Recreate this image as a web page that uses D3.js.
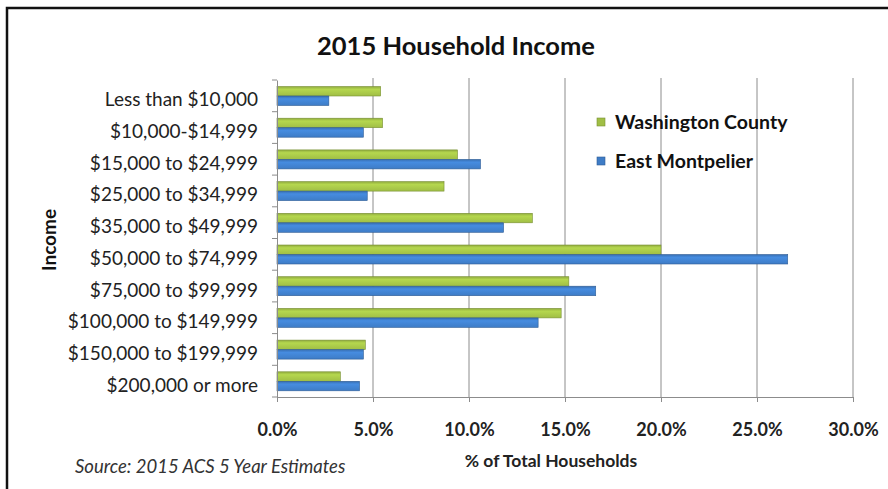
<!DOCTYPE html>
<html>
<head>
<meta charset="utf-8">
<script src="https://cdn.jsdelivr.net/npm/d3@7"></script>
<style>
  body { margin: 0; background: #fff; }
  svg { display: block; font-family: Lato, "Open Sans", sans-serif; }
</style>
</head>
<body>
<svg id="chart" width="888" height="489"></svg>
<script>
// data (percent of households)
var categories = ['Less than $10,000', '$10,000-$14,999', '$15,000 to $24,999', '$25,000 to $34,999',
  '$35,000 to $49,999', '$50,000 to $74,999', '$75,000 to $99,999', '$100,000 to $149,999',
  '$150,000 to $199,999', '$200,000 or more'];
var series = ['Washington County', 'East Montpelier'];
var washington = [5.4, 5.5, 9.4, 8.7, 13.3, 20.0, 15.2, 14.8, 4.6, 3.3];
var eastMontpelier = [2.7, 4.5, 10.6, 4.7, 11.8, 26.6, 16.6, 13.6, 4.5, 4.3];
var xTicks = [0, 5, 10, 15, 20, 25, 30];
var colors = ['#a0be45', '#3e7cc6'];

var svg = d3.select('#chart');

// frame
svg.append('path')
  .attr('d', 'M7,489 V8 H888')
  .attr('fill', 'none')
  .attr('stroke', '#111')
  .attr('stroke-width', 2.5);

var x = d3.scaleLinear().domain([0, 30]).range([277, 853]);
var y = d3.scaleBand().domain(categories).range([80, 397]);
var ys = d3.scaleBand().domain(series).range([6.5, 25.5]);

// gradients for the bars
var defs = svg.append('defs');
colors.forEach(function(c, i) {
  var g = defs.append('linearGradient').attr('id', 'grad' + i)
    .attr('x1', 0).attr('y1', 0).attr('x2', 0).attr('y2', 1);
  g.append('stop').attr('offset', '0%').attr('stop-color', d3.color(c).darker(0.3));
  g.append('stop').attr('offset', '30%').attr('stop-color', d3.color(c).brighter(0.35));
  g.append('stop').attr('offset', '100%').attr('stop-color', c);
});

// gridlines
svg.append('g').selectAll('line').data(xTicks.slice(1)).enter().append('line')
  .attr('x1', function(d) { return x(d); })
  .attr('x2', function(d) { return x(d); })
  .attr('y1', 78).attr('y2', 397)
  .attr('stroke', '#8c8c8c').attr('stroke-width', 1);

// bars
var rows = categories.map(function(c, i) {
  return {cat: c, vals: [washington[i], eastMontpelier[i]]};
});
var grp = svg.append('g').selectAll('g').data(rows).enter().append('g')
  .attr('transform', function(d) { return 'translate(0,' + y(d.cat) + ')'; });
grp.selectAll('rect').data(function(d) {
    return d.vals.map(function(v, i) { return {s: series[i], v: v, i: i}; });
  }).enter().append('rect')
  .attr('x', x(0))
  .attr('y', function(d) { return ys(d.s); })
  .attr('width', function(d) { return x(d.v) - x(0); })
  .attr('height', ys.bandwidth())
  .attr('fill', function(d) { return 'url(#grad' + d.i + ')'; })
  .attr('stroke', function(d) { return d3.color(colors[d.i]).darker(0.8); })
  .attr('stroke-width', 0.6);

// x axis
var xAxis = svg.append('g').attr('transform', 'translate(0,397)')
  .call(d3.axisBottom(x).tickValues(xTicks).tickSize(5).tickPadding(21)
    .tickFormat(function(d) { return d.toFixed(1) + '%'; }));
xAxis.select('.domain').attr('stroke', '#8c8c8c');
xAxis.selectAll('.tick line').attr('stroke', '#8c8c8c');
xAxis.selectAll('text').attr('font-size', 18).attr('font-weight', 'bold')
  .attr('fill', '#222').attr('font-family', 'Lato, sans-serif');

// y axis
var yAxis = svg.append('g').attr('transform', 'translate(277,0)')
  .call(d3.axisLeft(y).tickSize(0).tickPadding(19));
yAxis.select('.domain').attr('stroke', '#8c8c8c');
yAxis.selectAll('text').attr('font-size', 19).attr('fill', '#222')
  .attr('dy', '0.55em')
  .attr('font-family', 'Lato, sans-serif');
// small ticks between categories
svg.append('g').selectAll('line').data(d3.range(categories.length + 1)).enter().append('line')
  .attr('x1', 272).attr('x2', 277)
  .attr('y1', function(d) { return 80 + d * y.step(); })
  .attr('y2', function(d) { return 80 + d * y.step(); })
  .attr('stroke', '#8c8c8c');

// titles
svg.append('text').attr('x', 456).attr('y', 55).attr('text-anchor', 'middle')
  .attr('font-size', 25.5).attr('font-weight', 'bold').attr('fill', '#111')
  .text('2015 Household Income');
svg.append('text').attr('transform', 'translate(56,240) rotate(-90)')
  .attr('text-anchor', 'middle').attr('font-size', 19).attr('font-weight', 'bold')
  .attr('fill', '#111').text('Income');
svg.append('text').attr('x', 551).attr('y', 467).attr('text-anchor', 'middle')
  .attr('font-size', 17.5).attr('font-weight', 'bold').attr('fill', '#222')
  .text('% of Total Households');
svg.append('text').attr('x', 75).attr('y', 473)
  .attr('font-size', 18.5).attr('font-style', 'italic').attr('fill', '#333')
  .text('Source: 2015 ACS 5 Year Estimates');

// legend
var leg = svg.append('g').selectAll('g').data(series).enter().append('g')
  .attr('transform', function(d, i) { return 'translate(597,' + (118 + i * 39) + ')'; });
leg.append('rect').attr('width', 8).attr('height', 8)
  .attr('fill', function(d, i) { return colors[i]; })
  .attr('stroke', function(d, i) { return d3.color(colors[i]).darker(0.8); })
  .attr('stroke-width', 0.6);
leg.append('text').attr('x', 18).attr('y', 11)
  .attr('font-size', 19.5).attr('font-weight', 'bold').attr('fill', '#111')
  .text(function(d) { return d; });
</script>
</body>
</html>
